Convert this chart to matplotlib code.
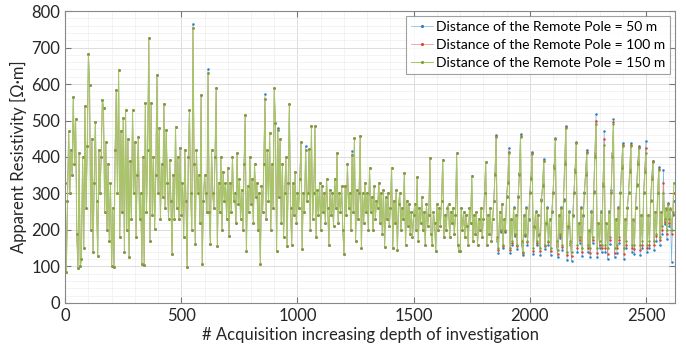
import numpy as np
import matplotlib
matplotlib.use("Agg")
import matplotlib.pyplot as plt
from matplotlib.ticker import MultipleLocator

# Sampling step of the read-off values (acquisition number)
step = 5

# Apparent resistivity, remote pole at 150 m (read every 5 acquisitions)
rho_150 = [
    # 0-95
    330, 85, 280, 470, 300, 420, 350, 565, 380, 505, 190, 95, 410, 100, 120, 400, 150, 540, 260, 430,
    # 100-195
    683, 598, 200, 450, 140, 330, 497, 280, 128, 420, 300, 400, 557, 535, 250, 440, 200, 380, 170, 330,
    # 200-295
    101, 260, 98, 420, 584, 300, 638, 180, 470, 250, 508, 140, 530, 200, 450, 125, 390, 230, 530, 300,
    # 300-395
    440, 180, 350, 455, 230, 300, 106, 400, 105, 549, 250, 420, 727, 169, 547, 240, 400, 202, 350, 625,
    # 400-495
    300, 480, 230, 380, 290, 545, 260, 475, 330, 229, 393, 280, 134, 350, 230, 483, 260, 400, 229, 426,
    # 500-595
    240, 330, 180, 420, 280, 98, 400, 530, 300, 200, 755, 380, 161, 420, 300, 350, 220, 570, 106, 280,
    # 600-695
    350, 300, 250, 630, 250, 161, 420, 300, 260, 400, 588, 156, 330, 250, 400, 200, 360, 280, 330, 230,
    # 700-795
    370, 183, 330, 250, 400, 280, 300, 220, 410, 270, 340, 230, 310, 200, 380, 515, 142, 320, 250, 400,
    # 800-895
    270, 340, 220, 380, 290, 330, 200, 300, 106, 320, 250, 380, 560, 230, 420, 280, 467, 200, 380, 260,
    # 900-995
    588, 494, 142, 475, 290, 448, 220, 380, 180, 300, 400, 156, 330, 545, 260, 160, 330, 240, 360, 220,
    # 1000-1095
    300, 260, 340, 440, 147, 300, 250, 420, 280, 300, 422, 200, 484, 230, 300, 485, 180, 310, 240, 330,
    # 1100-1195
    200, 320, 250, 300, 220, 340, 260, 160, 310, 240, 300, 210, 340, 260, 412, 220, 300, 250, 320, 200,
    # 1200-1295
    135, 320, 240, 380, 260, 300, 200, 405, 250, 453, 170, 310, 230, 300, 458, 150, 300, 220, 330, 250,
    # 1300-1395
    300, 200, 371, 250, 290, 200, 320, 230, 280, 260, 330, 220, 300, 190, 310, 153, 290, 230, 300, 210,
    # 1400-1495
    260, 371, 150, 280, 220, 310, 145, 270, 300, 200, 260, 230, 357, 160, 280, 210, 270, 190, 250, 180,
    # 1500-1595
    240, 270, 200, 344, 170, 260, 220, 290, 200, 250, 160, 270, 210, 240, 398, 190, 160, 250, 220, 142,
    # 1600-1695
    270, 200, 260, 210, 280, 393, 180, 240, 200, 260, 270, 180, 250, 220, 260, 190, 240, 410, 160, 142,
    # 1700-1795
    142, 260, 200, 250, 180, 240, 210, 160, 260, 220, 347, 170, 240, 190, 250, 160, 230, 200, 260, 180,
    # 1800-1895
    230, 300, 385, 160, 240, 190, 260, 170, 230, 280, 350, 455, 180, 150, 250, 200, 270, 160, 230, 200,
    # 1900-1995
    290, 330, 410, 150, 230, 170, 260, 190, 240, 160, 290, 350, 456, 170, 140, 240, 190, 260, 170, 230,
    # 2000-2095
    300, 340, 407, 150, 210, 250, 170, 240, 190, 150, 280, 320, 388, 160, 220, 260, 170, 230, 150, 250,
    # 2100-2195
    300, 370, 449, 170, 145, 240, 190, 260, 160, 280, 380, 480, 140, 210, 250, 170, 140, 240, 300, 360,
    # 2200-2295
    438, 160, 220, 180, 260, 150, 240, 300, 350, 410, 160, 200, 150, 250, 180, 300, 400, 490, 150, 220,
    # 2300-2395
    170, 250, 160, 320, 432, 160, 220, 150, 250, 180, 300, 400, 490, 150, 230, 160, 260, 180, 300, 370,
    # 2400-2495
    430, 150, 230, 170, 260, 300, 360, 430, 160, 230, 160, 260, 320, 380, 425, 160, 240, 170, 300, 360,
    # 2500-2595
    410, 160, 240, 170, 280, 340, 385, 170, 250, 190, 300, 365, 180, 250, 210, 300, 230, 260, 200, 270,
    # 2600-2620
    230, 260, 200, 250, 330,
]

# Where the other two series separate from the 150 m one (acquisition 1850 on)
tail_start = 1850
rho_50_tail = [
    355, 460, 170, 138, 250, 195, 272, 150, 228, 195,
    292, 335, 425, 138, 228, 158, 262, 182, 240, 148, 292, 355, 462, 158, 130, 238, 182, 262, 160, 228,
    305, 345, 415, 135, 205, 252, 158, 240, 182, 132, 285, 325, 395, 148, 215, 262, 160, 228, 132, 252,
    305, 378, 452, 155, 125, 238, 178, 262, 145, 285, 388, 485, 118, 205, 252, 158, 115, 238, 305, 368,
    440, 140, 215, 165, 262, 128, 238, 305, 360, 420, 140, 195, 125, 252, 165, 308, 412, 517, 125, 215,
    150, 252, 140, 330, 470, 140, 215, 120, 252, 162, 310, 410, 503, 125, 228, 138, 262, 165, 305, 378,
    437, 120, 228, 150, 262, 305, 368, 438, 140, 225, 135, 262, 325, 390, 430, 130, 238, 150, 305, 370,
    443, 140, 238, 150, 282, 348, 390, 145, 248, 170, 305, 372, 160, 248, 190, 365, 215, 255, 175, 275,
    210, 255, 112, 240, 280,
]
rho_100_tail = [
    352, 457, 176, 145, 250, 198, 270, 156, 230, 198,
    290, 332, 415, 145, 230, 165, 260, 186, 240, 155, 290, 352, 458, 165, 136, 240, 186, 260, 166, 230,
    302, 342, 410, 143, 208, 250, 165, 240, 186, 142, 282, 322, 390, 155, 218, 260, 166, 230, 142, 250,
    302, 374, 450, 162, 135, 240, 184, 260, 152, 282, 384, 482, 130, 208, 250, 164, 128, 240, 302, 364,
    439, 150, 218, 172, 260, 140, 240, 302, 355, 414, 150, 198, 138, 250, 172, 304, 406, 500, 138, 218,
    160, 250, 150, 325, 450, 150, 218, 135, 250, 172, 305, 405, 495, 138, 230, 150, 260, 172, 302, 374,
    433, 135, 230, 160, 260, 302, 364, 434, 150, 228, 148, 260, 322, 385, 428, 145, 240, 160, 302, 365,
    425, 150, 240, 160, 280, 344, 388, 158, 250, 182, 302, 368, 172, 250, 200, 330, 222, 258, 188, 272,
    220, 258, 190, 245, 300,
]
# Isolated early peaks where the 50 m curve stands above the others
peak_acq_50 = [550, 615, 860, 915, 1035, 1235]
peak_val_50 = [765, 640, 573, 480, 430, 416]

labels = ["Distance of the Remote Pole = 50 m",
          "Distance of the Remote Pole = 100 m",
          "Distance of the Remote Pole = 150 m"]

x = np.arange(len(rho_150)) * step
r150 = np.array(rho_150, dtype=float)
i0 = tail_start // step
r50 = r150.copy()
r50[i0:] = rho_50_tail
for a, v in zip(peak_acq_50, peak_val_50):
    r50[a // step] = v
r100 = r150.copy()
r100[i0:] = rho_100_tail

plt.rcParams['font.family'] = ['Lato', 'DejaVu Sans']
fig = plt.figure(figsize=(6.86, 3.58), dpi=100)
ax = fig.add_axes([0.095, 0.154, 0.889, 0.815])

styles = [("#7ab6e2", "#2a80c4", 0.5), ("#ec8a78", "#d84a30", 0.5), ("#a6c766", "#74a632", 0.75)]
for y, lab, (lc, mc, lw) in zip([r50, r100, r150], labels, styles):
    ax.plot(x, y, '-', color=lc, lw=lw, marker='.', ms=1.6, mfc=mc, mec=mc, label=lab)

ax.set_xlim(0, 2625)
ax.set_ylim(0, 800)
ax.xaxis.set_major_locator(MultipleLocator(500))
ax.xaxis.set_minor_locator(MultipleLocator(100))
ax.yaxis.set_major_locator(MultipleLocator(100))
ax.yaxis.set_minor_locator(MultipleLocator(20))
ax.grid(which='major', color='#dcdcdc', lw=0.7)
ax.grid(which='minor', color='#efefef', lw=0.5)
ax.set_axisbelow(True)
ax.tick_params(which='both', direction='in', top=True, right=True, colors='#777777',
               labelcolor='#262626', labelsize=12)
ax.tick_params(which='minor', length=0)
ax.tick_params(which='major', length=4)
for s in ax.spines.values():
    s.set_color('#888888')
    s.set_linewidth(0.8)

ax.set_xlabel("# Acquisition increasing depth of investigation", fontsize=12, color='#262626', labelpad=2)
ax.set_ylabel("Apparent Resistivity [Ω·m]", fontsize=12, color='#262626', labelpad=3)

leg = ax.legend(loc='upper right', fontsize=10, frameon=True, fancybox=False,
                edgecolor='#888888', handlelength=1.6, borderaxespad=0.35,
                handletextpad=0.2, labelspacing=0.45, borderpad=0.35)
leg.get_frame().set_linewidth(0.8)
for h in leg.legend_handles:
    h.set_markersize(2.5)

fig.savefig("out.png", dpi=100, facecolor='white')
